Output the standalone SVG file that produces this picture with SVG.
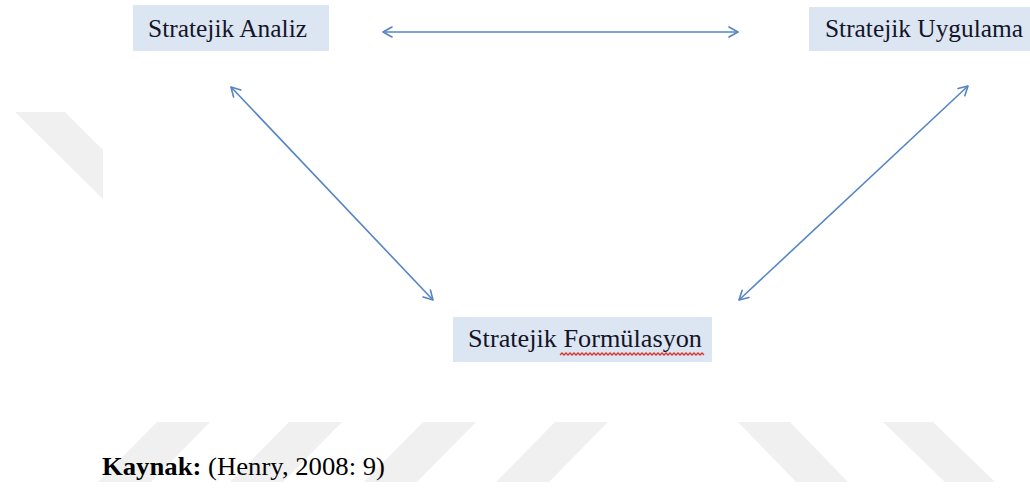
<svg xmlns="http://www.w3.org/2000/svg" width="1030" height="489" viewBox="0 0 1030 489">
  <defs>
    <style>
      .wm { fill: #f0f0f0; }
      .box { fill: #dce6f2; }
      .lbl { font-family: "Liberation Serif", "Times New Roman", serif; font-size: 25px; fill: #141428; }
      .conn { stroke: #5585c5; stroke-width: 1.6; fill: none; }
      .cap { font-family: "Liberation Serif", "Times New Roman", serif; font-size: 25px; fill: #000; }
    </style>
    <marker id="arr" viewBox="0 0 12 12" refX="11" refY="6" markerWidth="12" markerHeight="12" markerUnits="userSpaceOnUse" orient="auto-start-reverse">
      <path d="M2,1 L11,6 L2,11" fill="none" stroke="#5585c5" stroke-width="1.6" stroke-linecap="round" stroke-linejoin="round"/>
    </marker>
  </defs>
  <rect width="1030" height="489" fill="#ffffff"/>
  <g id="watermark">
    <polygon class="wm" points="15,112 65,112 103,150 103,199"/>
    <polygon class="wm" points="157,422 210,422 151,482 98,482"/>
    <polygon class="wm" points="289,422 342,422 283,482 230,482"/>
    <polygon class="wm" points="423,422 476,422 417,482 364,482"/>
    <polygon class="wm" points="555,422 608,422 549,482 496,482"/>
    <polygon class="wm" points="738,422 790,422 848,482 796,482"/>
    <polygon class="wm" points="883,422 933,422 995,482 945,482"/>
  </g>
  <g id="connectors">
    <line class="conn" x1="383" y1="32" x2="738" y2="32" marker-start="url(#arr)" marker-end="url(#arr)"/>
    <line class="conn" x1="231" y1="87" x2="433" y2="300" marker-start="url(#arr)" marker-end="url(#arr)"/>
    <line class="conn" x1="968" y1="86" x2="739" y2="300" marker-start="url(#arr)" marker-end="url(#arr)"/>
  </g>
  <g id="node-analiz">
    <rect class="box" x="133" y="5" width="196" height="46"/>
    <text class="lbl" x="148" y="37" textLength="159" lengthAdjust="spacingAndGlyphs">Stratejik Analiz</text>
  </g>
  <g id="node-uygulama">
    <rect class="box" x="809" y="7" width="221" height="44"/>
    <text class="lbl" x="825" y="37" textLength="198" lengthAdjust="spacingAndGlyphs">Stratejik Uygulama</text>
  </g>
  <g id="node-formulasyon">
    <rect class="box" x="453" y="317" width="259" height="45"/>
    <text class="lbl" x="468" y="347" textLength="234" lengthAdjust="spacingAndGlyphs">Stratejik Formülasyon</text>
    <path d="M560,355 l2,-2 l2,2 l2,-2 l2,2 l2,-2 l2,2 l2,-2 l2,2 l2,-2 l2,2 l2,-2 l2,2 l2,-2 l2,2 l2,-2 l2,2 l2,-2 l2,2 l2,-2 l2,2 l2,-2 l2,2 l2,-2 l2,2 l2,-2 l2,2 l2,-2 l2,2 l2,-2 l2,2 l2,-2 l2,2 l2,-2 l2,2 l2,-2 l2,2 l2,-2 l2,2 l2,-2 l2,2 l2,-2 l2,2 l2,-2 l2,2 l2,-2 l2,2 l2,-2 l2,2 l2,-2 l2,2 l2,-2 l2,2 l2,-2 l2,2 l2,-2 l2,2 l2,-2 l2,2 l2,-2 l2,2 l2,-2 l2,2 l2,-2 l2,2 l2,-2 l2,2 l2,-2 l2,2 l2,-2 l2,2 l2,-2 l2,2" fill="none" stroke="#e0302a" stroke-width="1.3"/>
  </g>
  <g id="caption">
    <text class="cap" x="102" y="475" textLength="283" lengthAdjust="spacingAndGlyphs"><tspan font-weight="bold">Kaynak:</tspan> (Henry, 2008: 9)</text>
  </g>
</svg>
